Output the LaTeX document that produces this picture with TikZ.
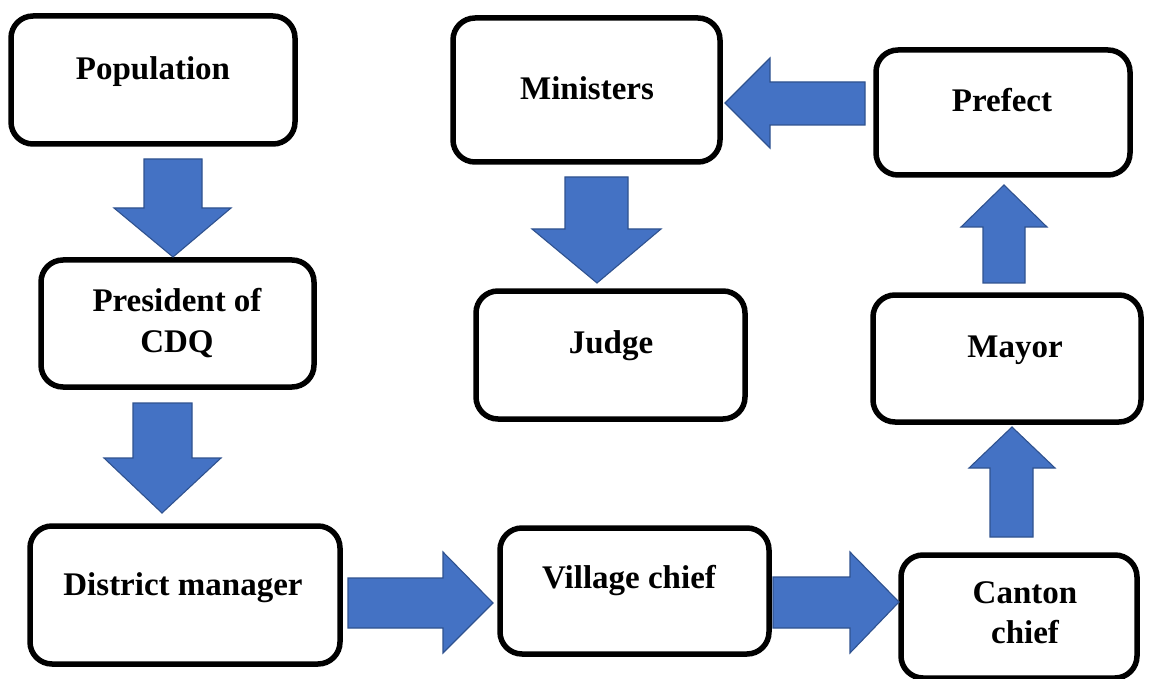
\documentclass[tikz,border=0pt]{standalone}
\usepackage{fontspec}
\setmainfont{Liberation Serif}
\definecolor{arrowfill}{HTML}{4472C4}
\definecolor{arrowline}{HTML}{2F528F}
\tikzset{
  box/.style={draw=black, line width=5.5pt, rounded corners=22pt, fill=white, inner sep=0pt},
  boxtext/.style={anchor=base, inner sep=0pt, align=center, font=\bfseries\fontsize{33}{40}\selectfont},
  blockarrow/.style={fill=arrowfill, draw=arrowline, line width=1.1pt, line join=miter}
}
\begin{document}
\begin{tikzpicture}[x=1pt, y=-1pt]
\useasboundingbox (0,0) rectangle (1149,679);

% boxes
\node[box, minimum width=284pt, minimum height=128pt] (pop) at (153,80) {};
\node[box, minimum width=273pt, minimum height=127pt] (pres) at (177.5,323.5) {};
\node[box, minimum width=310pt, minimum height=138pt] (dist) at (185,595) {};
\node[box, minimum width=269pt, minimum height=126pt] (vill) at (634.5,591) {};
\node[box, minimum width=236pt, minimum height=123pt] (cant) at (1019,616.5) {};
\node[box, minimum width=268pt, minimum height=127pt] (mayor) at (1007,358.5) {};
\node[box, minimum width=254pt, minimum height=125pt] (pref) at (1003,112.5) {};
\node[box, minimum width=267pt, minimum height=144pt] (mini) at (586.5,90) {};
\node[box, minimum width=269pt, minimum height=128pt] (judge) at (610.5,355) {};

% texts (for two-line texts the base anchor is the last line's baseline)
\node[boxtext] (popt) at (153,80) {Population};
\node[boxtext] (prest) at (177,352) {President of\\CDQ};
\node[boxtext] (distt) at (183,595) {District manager};
\node[boxtext] (villt) at (629,588) {Village chief};
\node[boxtext] (cantt) at (1025,643) {Canton\\chief};
\node[boxtext] (mayort) at (1015,357) {Mayor};
\node[boxtext] (preft) at (1002,112) {Prefect};
\node[boxtext] (minit) at (587,100) {Ministers};
\node[boxtext] (judget) at (611,353) {Judge};

% block arrows
% Population -> President
\draw[blockarrow] (144,159) -- (202,159) -- (202,208) -- (231,208) -- (173,257) -- (114,208) -- (144,208) -- cycle;
% President -> District manager
\draw[blockarrow] (133,403) -- (192,403) -- (192,458) -- (221,458) -- (162,513) -- (104,458) -- (133,458) -- cycle;
% District manager -> Village chief
\draw[blockarrow] (348,578) -- (443,578) -- (443,552) -- (493,603) -- (443,653) -- (443,628) -- (348,628) -- cycle;
% Village chief -> Canton chief
\draw[blockarrow] (773,577) -- (850,577) -- (850,552) -- (899,602) -- (850,653) -- (850,628) -- (773,628) -- cycle;
% Canton chief -> Mayor
\draw[blockarrow] (990,537) -- (990,468) -- (969,468) -- (1012,427) -- (1055,468) -- (1033,468) -- (1033,537) -- cycle;
% Mayor -> Prefect
\draw[blockarrow] (983,283) -- (983,227) -- (961,227) -- (1004,185) -- (1047,227) -- (1025,227) -- (1025,283) -- cycle;
% Prefect -> Ministers
\draw[blockarrow] (865,82) -- (770,82) -- (770,58) -- (725,103) -- (770,148) -- (770,125) -- (865,125) -- cycle;
% Ministers -> Judge
\draw[blockarrow] (565,177) -- (628,177) -- (628,229) -- (661,229) -- (597,283) -- (532,229) -- (565,229) -- cycle;
\end{tikzpicture}
\end{document}
